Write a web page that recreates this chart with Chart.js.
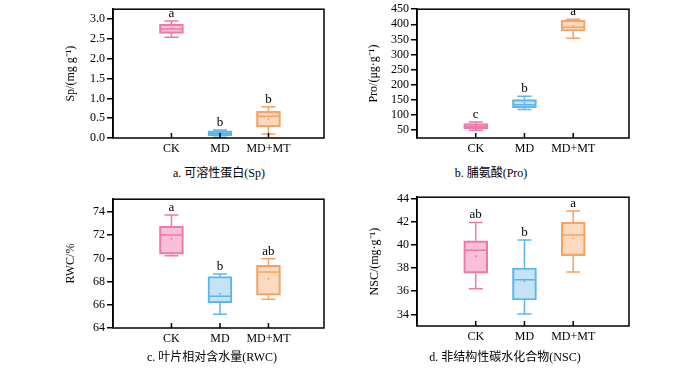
<!DOCTYPE html>
<html>
<head>
<meta charset="utf-8">
<script src="https://cdn.jsdelivr.net/npm/chart.js@4/dist/chart.umd.min.js"></script>
<style>
  body { margin: 0; background: #fff; width: 700px; height: 376px; position: relative; overflow: hidden;
         font-family: "Liberation Serif", "Noto Sans CJK SC", serif; }
  .panel { position: absolute; width: 290px; height: 160px; }
  .cap { position: absolute; font-size: 12px; line-height: 14px; white-space: nowrap; transform: translateX(-50%); color: #000; }
</style>
</head>
<body>
<div class="panel" style="left:50px;top:0px"><canvas id="spChart"></canvas></div>
<div class="panel" style="left:355px;top:0px"><canvas id="proChart"></canvas></div>
<div class="panel" style="left:50px;top:190px"><canvas id="rwcChart"></canvas></div>
<div class="panel" style="left:355px;top:188px"><canvas id="nscChart"></canvas></div>
<div class="cap" style="left:219px;top:166px">a. 可溶性蛋白(Sp)</div>
<div class="cap" style="left:491px;top:166px">b. 脯氨酸(Pro)</div>
<div class="cap" style="left:212px;top:350px">c. 叶片相对含水量(RWC)</div>
<div class="cap" style="left:505px;top:350px">d. 非结构性碳水化合物(NSC)</div>
<script>
const groups = ['CK', 'MD', 'MD+MT'];

// Sp
const spMin = [2.54, 0.02, 0.10];
const spQ1 = [2.64, 0.06, 0.28];
const spMed = [2.75, 0.12, 0.55];
const spQ3 = [2.87, 0.18, 0.67];
const spMax = [2.95, 0.20, 0.79];
const spMean = [2.76, 0.12, 0.47];
const spLetters = ['a', 'b', 'b'];
const spTicks = [0, 0.5, 1.0, 1.5, 2.0, 2.5, 3.0];

// Pro
const proMin = [50, 118, 354];
const proQ1 = [55, 124, 378];
const proMed = [63, 134, 390];
const proQ3 = [72, 151, 414];
const proMax = [77, 162, 417];
const proMean = [64, 141, 395];
const proLetters = ['c', 'b', 'a'];
const proTicks = [50, 100, 150, 200, 250, 300, 350, 400, 450];

// RWC
const rwcMin = [70.22, 65.18, 66.47];
const rwcQ1 = [70.36, 66.16, 66.84];
const rwcMed = [72.01, 66.74, 68.83];
const rwcQ3 = [72.78, 68.44, 69.40];
const rwcMax = [73.74, 68.66, 69.97];
const rwcMean = [71.70, 66.95, 68.23];
const rwcLetters = ['a', 'b', 'ab'];
const rwcTicks = [64, 66, 68, 70, 72, 74];

// NSC
const nscMin = [36.20, 34.03, 37.66];
const nscQ1 = [37.55, 35.24, 39.07];
const nscMed = [39.52, 36.99, 40.85];
const nscQ3 = [40.34, 38.00, 41.94];
const nscMax = [41.92, 40.42, 42.90];
const nscMean = [39.01, 36.85, 40.56];
const nscLetters = ['ab', 'b', 'a'];
const nscTicks = [34, 36, 38, 40, 42, 44];

const lineColors = ['#ee78a9', '#5cb4e8', '#f5a262'];
const fillColors = ['rgba(240,130,178,0.5)', 'rgba(125,192,236,0.45)', 'rgba(248,172,112,0.45)'];
const serif = 'Liberation Serif';

const boxExtras = {
  id: 'boxExtras',
  afterDatasetsDraw(chart, args, o) {
    const { ctx, chartArea: a, scales: { x, y } } = chart;
    ctx.save();
    o.med.forEach((m, i) => {
      const cx = x.getPixelForValue(i);
      const yMin = y.getPixelForValue(o.min[i]);
      const yMax = y.getPixelForValue(o.max[i]);
      const yQ1 = y.getPixelForValue(o.q1[i]);
      const yQ3 = y.getPixelForValue(o.q3[i]);
      const yMed = y.getPixelForValue(m);
      ctx.strokeStyle = lineColors[i];
      ctx.lineWidth = 1.5;
      ctx.beginPath();
      ctx.moveTo(cx, yQ3); ctx.lineTo(cx, yMax);
      ctx.moveTo(cx - 7, yMax); ctx.lineTo(cx + 7, yMax);
      ctx.moveTo(cx, yQ1); ctx.lineTo(cx, yMin);
      ctx.moveTo(cx - 7, yMin); ctx.lineTo(cx + 7, yMin);
      ctx.moveTo(cx - 11.5, yMed); ctx.lineTo(cx + 11.5, yMed);
      ctx.stroke();
      ctx.fillStyle = lineColors[i];
      ctx.beginPath();
      ctx.arc(cx, y.getPixelForValue(o.mean[i]), 1, 0, Math.PI * 2);
      ctx.fill();
      ctx.fillStyle = '#000';
      ctx.font = '13px "' + serif + '"';
      ctx.textAlign = 'center';
      ctx.textBaseline = 'bottom';
      ctx.fillText(o.letters[i], cx, yMax - 1);
    });
    // frame + inward x ticks
    ctx.strokeStyle = '#000';
    ctx.lineWidth = 1.5;
    ctx.strokeRect(a.left, a.top, a.right - a.left, a.bottom - a.top);
    ctx.beginPath();
    groups.forEach((g, i) => {
      const px = x.getPixelForValue(i);
      ctx.moveTo(px, a.bottom); ctx.lineTo(px, a.bottom - 5);
    });
    ctx.stroke();
    ctx.restore();
  }
};

function makeBox(id, s) {
  new Chart(document.getElementById(id), {
    type: 'bar',
    data: {
      datasets: [{
        data: groups.map((g, i) => ({ x: i, y: [s.q1[i], s.q3[i]] })),
        backgroundColor: fillColors,
        borderColor: lineColors,
        borderWidth: 1.5,
        borderSkipped: false,
        barThickness: 24
      }]
    },
    options: {
      responsive: true,
      maintainAspectRatio: false,
      animation: false,
      layout: { padding: { left: 0, top: 7, right: 16, bottom: 0 } },
      scales: {
        x: {
          type: 'linear', min: -0.48, max: 2.42,
          afterBuildTicks: sc => { sc.ticks = groups.map((g, i) => ({ value: i })); },
          ticks: { callback: v => groups[v], color: '#000', font: { family: serif, size: 12 }, padding: -4, maxRotation: 0, autoSkip: false },
          grid: { display: false },
          border: { display: false },
          afterFit: sc => { sc.height = 22; }
        },
        y: {
          min: s.yMin, max: s.yMax,
          afterBuildTicks: sc => { sc.ticks = s.ticks.map(v => ({ value: v })); },
          ticks: { callback: s.fmt, color: '#000', font: { family: serif, size: 12 }, padding: 2, autoSkip: false },
          grid: { drawOnChartArea: false, tickLength: 6, color: '#000', lineWidth: 1.5 },
          border: { color: '#000', width: 1.5 },
          title: { display: true, text: s.title, color: '#000', font: { family: serif, size: 12 }, padding: { top: s.tp, bottom: 0 } },
          afterFit: sc => { sc.width = s.w; }
        }
      },
      plugins: {
        legend: { display: false },
        tooltip: { enabled: false },
        boxExtras: s
      }
    },
    plugins: [boxExtras]
  });
}

makeBox('spChart', { min: spMin, q1: spQ1, med: spMed, q3: spQ3, max: spMax, mean: spMean, letters: spLetters,
  ticks: spTicks, yMin: 0, yMax: 3.25, fmt: v => v.toFixed(1), title: 'Sp/(mg g⁻¹)', tp: 14, w: 63 });
makeBox('proChart', { min: proMin, q1: proQ1, med: proMed, q3: proQ3, max: proMax, mean: proMean, letters: proLetters,
  ticks: proTicks, yMin: 24, yMax: 450, fmt: v => v, title: 'Pro/(μg·g⁻¹)', tp: 12, w: 62 });
makeBox('rwcChart', { min: rwcMin, q1: rwcQ1, med: rwcMed, q3: rwcQ3, max: rwcMax, mean: rwcMean, letters: rwcLetters,
  ticks: rwcTicks, yMin: 64, yMax: 75.1, fmt: v => v, title: 'RWC/%', tp: 14, w: 63 });
makeBox('nscChart', { min: nscMin, q1: nscQ1, med: nscMed, q3: nscQ3, max: nscMax, mean: nscMean, letters: nscLetters,
  ticks: nscTicks, yMin: 33, yMax: 44.1, fmt: v => v, title: 'NSC/(mg·g⁻¹)', tp: 13, w: 62 });
</script>
</body>
</html>
